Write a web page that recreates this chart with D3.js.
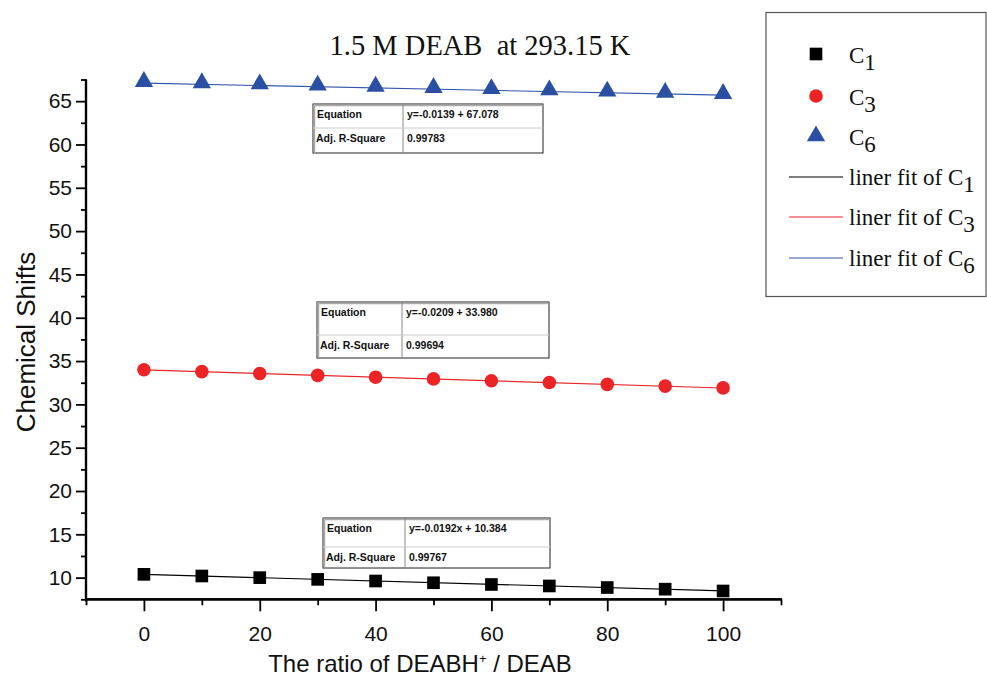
<!DOCTYPE html>
<html><head><meta charset="utf-8">
<script src="https://cdn.jsdelivr.net/npm/d3@7"></script>
<style>
body{margin:0;background:#fff;}
svg{display:block;}
</style></head>
<body>
<svg id="chart" width="987" height="679"></svg>
<script>
const ratios = [0, 10, 20, 30, 40, 50, 60, 70, 80, 90, 100];
const c1Values = [10.38, 10.19, 10.00, 9.80, 9.61, 9.41, 9.21, 9.04, 8.86, 8.67, 8.46];
const c3Values = [34.00, 33.78, 33.56, 33.35, 33.14, 32.94, 32.72, 32.52, 32.31, 32.11, 31.90];
const c6Values = [67.08, 66.94, 66.81, 66.67, 66.53, 66.39, 66.25, 66.11, 65.97, 65.83, 65.69];
const fitSlopes = [-0.0192, -0.0209, -0.0139];
const fitIntercepts = [10.384, 33.980, 67.078];
const eqLabels = ["y=-0.0192x + 10.384", "y=-0.0209 + 33.980", "y=-0.0139 + 67.078"];
const r2Labels = ["0.99767", "0.99694", "0.99783"];
const yTicks = [10, 15, 20, 25, 30, 35, 40, 45, 50, 55, 60, 65];
const yMinor = [7.5, 12.5, 17.5, 22.5, 27.5, 32.5, 37.5, 42.5, 47.5, 52.5, 57.5, 62.5, 67.5];
const xTicks = [0, 20, 40, 60, 80, 100];
const xMinor = [-10, 10, 30, 50, 70, 90, 110];

const svg = d3.select("#chart");
const x = d3.scaleLinear().domain([-10, 110]).range([86, 781]);
const y = d3.scaleLinear().domain([7.5, 67.5]).range([599.3, 79.5]);

const colors = ["#000000", "#ee2326", "#2b4fa2"];
const lineColors = ["#000000", "#e8272b", "#3355aa"];
const series = [c1Values, c3Values, c6Values];
const sansFont = "Liberation Sans, Arial, sans-serif";
const serifFont = "Liberation Serif, Times New Roman, serif";

// Axes
const yAxisG = svg.append("g").attr("transform", "translate(86,0)")
  .call(d3.axisLeft(y).tickValues(yTicks).tickSize(10).tickPadding(4).tickFormat(d3.format("d")));
const yMinorG = svg.append("g").attr("transform", "translate(86,0)")
  .call(d3.axisLeft(y).tickValues(yMinor).tickSize(5).tickFormat(""));
const xAxisG = svg.append("g").attr("transform", "translate(0,599.3)")
  .call(d3.axisBottom(x).tickValues(xTicks).tickSize(12).tickPadding(15).tickFormat(d3.format("d")));
const xMinorG = svg.append("g").attr("transform", "translate(0,599.3)")
  .call(d3.axisBottom(x).tickValues(xMinor).tickSize(6).tickFormat(""));
[yAxisG, yMinorG, xAxisG, xMinorG].forEach(g => {
  g.select(".domain").attr("stroke", "#000").attr("stroke-width", 2.2);
  g.selectAll(".tick line").attr("stroke", "#000").attr("stroke-width", 1.8);
  g.selectAll(".tick text").attr("font-family", sansFont)
    .attr("font-size", 21).attr("fill", "#111");
});
yAxisG.select(".domain").attr("d", `M0,${y(67.5)}V${y(7.5) + 2}`);
yMinorG.select(".domain").attr("d", `M0,${y(67.5)}V${y(7.5) + 2}`);
xAxisG.select(".domain").attr("d", `M${x(-10) - 1},0H${x(110) + 1}`);
xMinorG.select(".domain").attr("d", `M${x(-10) - 1},0H${x(110) + 1}`);

// Fit lines
series.forEach((s, i) => {
  svg.append("line")
    .attr("x1", x(0)).attr("x2", x(100))
    .attr("y1", y(fitIntercepts[i])).attr("y2", y(fitIntercepts[i] + fitSlopes[i] * 100))
    .attr("stroke", lineColors[i]).attr("stroke-width", 1.2);
});

// Markers
const sym = [d3.symbolSquare, d3.symbolCircle, d3.symbolTriangle];
const symSize = [160, 145, 145];
series.forEach((s, i) => {
  svg.append("g").selectAll("path").data(s).join("path")
    .attr("d", d3.symbol().type(sym[i]).size(symSize[i]))
    .attr("transform", (d, j) => `translate(${x(ratios[j])},${y(d) + (i === 2 ? -1.5 : 0)})`)
    .attr("fill", colors[i]);
});

// Tables
const tables = [
  {x0: 323, y0: 518, x1: 550, y1: 568, xd: 405, yd: 547, idx: 0},
  {x0: 317, y0: 302, x1: 549, y1: 358, xd: 402, yd: 335, idx: 1},
  {x0: 313, y0: 104, x1: 543, y1: 153, xd: 403, yd: 128, idx: 2}
];
tables.forEach(t => {
  const g = svg.append("g");
  g.append("rect").attr("x", t.x0).attr("y", t.y0).attr("width", t.x1 - t.x0).attr("height", t.y1 - t.y0)
    .attr("fill", "#fff").attr("stroke", "#222").attr("stroke-width", 1);
  g.append("line").attr("x1", t.x0 + 1.5).attr("x2", t.x0 + 1.5).attr("y1", t.y0).attr("y2", t.y1)
    .attr("stroke", "#aaa").attr("stroke-width", 1.5);
  g.append("line").attr("x1", t.x0).attr("x2", t.x1).attr("y1", t.y0 + 1.5).attr("y2", t.y0 + 1.5)
    .attr("stroke", "#aaa").attr("stroke-width", 1.5);
  g.append("line").attr("x1", t.xd).attr("x2", t.xd).attr("y1", t.y0).attr("y2", t.y1)
    .attr("stroke", "#888").attr("stroke-width", 1);
  g.append("line").attr("x1", t.x0).attr("x2", t.x1).attr("y1", t.yd).attr("y2", t.yd)
    .attr("stroke", "#ccc").attr("stroke-width", 1);
  const tx = (txt, px, py) => g.append("text").attr("x", px).attr("y", py).text(txt)
    .attr("font-family", sansFont).attr("font-size", 10.5)
    .attr("font-weight", "bold").attr("fill", "#111");
  tx("Equation", t.x0 + 4, t.y0 + 14);
  tx(eqLabels[t.idx], t.xd + 4, t.y0 + 14);
  tx("Adj. R-Square", t.x0 + 3, t.yd + 14);
  tx(r2Labels[t.idx], t.xd + 4, t.yd + 14);
});

// Title
svg.append("text").attr("x", 480).attr("y", 55).attr("text-anchor", "middle")
  .attr("font-family", serifFont).attr("font-size", 28.5)
  .attr("fill", "#111").style("white-space", "pre")
  .text("1.5 M DEAB  at 293.15 K");

// Axis labels
svg.append("text").attr("transform", "translate(35,342) rotate(-90)").attr("text-anchor", "middle")
  .attr("font-family", sansFont).attr("font-size", 26).attr("fill", "#111")
  .text("Chemical Shifts");
const xl = svg.append("text").attr("x", 420).attr("y", 672).attr("text-anchor", "middle")
  .attr("font-family", sansFont).attr("font-size", 24).attr("fill", "#111");
xl.append("tspan").text("The ratio of DEABH");
xl.append("tspan").attr("dy", -9).attr("font-size", 13).text("+");
xl.append("tspan").attr("dy", 9).text(" / DEAB");

// Legend
svg.append("rect").attr("x", 766).attr("y", 12.5).attr("width", 220).attr("height", 284)
  .attr("fill", "#fff").attr("stroke", "#555").attr("stroke-width", 1.2);
const legNames = ["1", "3", "6"];
const markerY = [54, 96, 136];
legNames.forEach((n, i) => {
  svg.append("path").attr("d", d3.symbol().type(sym[i]).size(symSize[i])())
    .attr("transform", `translate(816,${markerY[i]})`).attr("fill", colors[i]);
  const t = svg.append("text").attr("x", 849).attr("y", markerY[i] + 9)
    .attr("font-family", serifFont).attr("font-size", 23).attr("fill", "#111");
  t.append("tspan").text("C");
  t.append("tspan").attr("dy", 7).text(n);
});
const lineY = [177, 217, 258];
legNames.forEach((n, i) => {
  svg.append("line").attr("x1", 789).attr("x2", 843).attr("y1", lineY[i]).attr("y2", lineY[i])
    .attr("stroke", lineColors[i]).attr("stroke-width", 1.2);
  const t = svg.append("text").attr("x", 849).attr("y", lineY[i] + 8)
    .attr("font-family", serifFont).attr("font-size", 23).attr("fill", "#111");
  t.append("tspan").text("liner fit of C");
  t.append("tspan").attr("dy", 7).text(n);
});
</script>
</body></html>
